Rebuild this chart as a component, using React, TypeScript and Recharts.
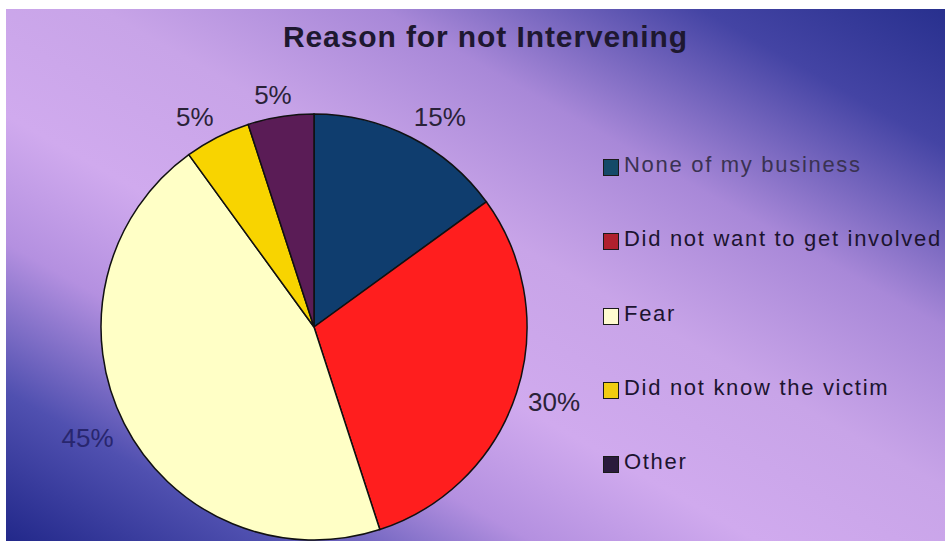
import { PieChart, Pie, Cell, Legend } from 'recharts';

// Reasons for not intervening, share of respondents (%)
const reasons = ['None of my business', 'Did not want to get involved', 'Fear', 'Did not know the victim', 'Other'];
const shares = [15, 30, 45, 5, 5];
const sliceColors = ['#0f3d6e', '#ff1e1e', '#ffffc6', '#f8d400', '#5a1c56'];
const swatchColors = ['#154a68', '#b0202e', '#fffbd0', '#f2cc10', '#2a1a3c'];
const labelColors = ['#2a2238', '#2a2238', '#28266e', '#2a2238', '#2a2238'];
const legendTextColors = ['#3a3252', '#1c1430', '#1c1430', '#1c1430', '#1c1430'];

const data = reasons.map((name, i) => ({ name, value: shares[i] }));

const RAD = Math.PI / 180;
const LABEL_SIZE = 26;

// outside labels sit just past the rim and are pushed away from it by half their own box,
// a bit like Excel's "outside end" placement
const renderLabel = (props: any) => {
  const { cx, cy, midAngle, outerRadius, index, value } = props;
  const text = `${value}%`;
  const w = (text.length - 1) * 0.556 * LABEL_SIZE + 0.889 * LABEL_SIZE;
  const h = 0.72 * LABEL_SIZE;
  const c = Math.cos(-midAngle * RAD);
  const s = Math.sin(-midAngle * RAD);
  const r = outerRadius + 12;
  const x = cx + r * c + Math.sign(c) * (w / 2) * Math.min(1, Math.abs(c) * 2);
  const y = cy + r * s + Math.sign(s) * (h / 2) * Math.min(1, Math.abs(s) * 2);
  return (
    <text x={x} y={y} fill={labelColors[index]} textAnchor="middle" dominantBaseline="central"
      style={{ fontFamily: 'Liberation Sans, Arial, sans-serif', fontSize: LABEL_SIZE }}>
      {text}
    </text>
  );
};

const renderLegend = () => (
  <div style={{ fontFamily: 'Liberation Sans, Arial, sans-serif', fontSize: 22, letterSpacing: 1.7 }}>
    {reasons.map((name, i) => (
      <div key={name} style={{ display: 'flex', alignItems: 'center', height: 74.3, whiteSpace: 'nowrap' }}>
        <span style={{ display: 'inline-block', width: 16, height: 17, background: swatchColors[i], border: '1.5px solid #1a1a1a', boxSizing: 'border-box', marginRight: 5, marginTop: 5 }} />
        <span style={{ color: legendTextColors[i] }}>{name}</span>
      </div>
    ))}
  </div>
);

export default function App() {
  return (
    <div style={{ position: 'absolute', left: 0, top: 0, width: 945, height: 541, background: '#ffffff', overflow: 'hidden' }}>
      <div style={{
        position: 'absolute', left: 6, top: 9, right: 0, bottom: 0,
        background: 'linear-gradient(to bottom left, #28308e 0%, #4444a4 13%, #a888d8 30%, #c8a4e8 45%, #d0aaee 60%, #b490e0 72%, #5050b0 86%, #22288a 100%)',
      }} />
      <div style={{
        position: 'absolute', left: 0, top: 20, width: 945, textAlign: 'center', paddingLeft: 26, boxSizing: 'border-box',
        fontFamily: 'Liberation Sans, Arial, sans-serif', fontWeight: 'bold', fontSize: 30, letterSpacing: 0.9, color: '#1e1830',
      }}>
        Reason for not Intervening
      </div>
      <div style={{ position: 'absolute', left: 0, top: 0 }}>
        <PieChart width={945} height={541}>
          <Pie
            data={data}
            dataKey="value"
            nameKey="name"
            cx={309}
            cy={322}
            outerRadius={213}
            startAngle={90}
            endAngle={-270}
            stroke="#111111"
            strokeWidth={1.5}
            label={renderLabel}
            labelLine={false}
            isAnimationActive={false}
          >
            {data.map((d, i) => (
              <Cell key={d.name} fill={sliceColors[i]} />
            ))}
          </Pie>
          <Legend content={renderLegend} wrapperStyle={{ position: 'absolute', left: 603, top: 128, width: 342 }} />
        </PieChart>
      </div>
    </div>
  );
}
